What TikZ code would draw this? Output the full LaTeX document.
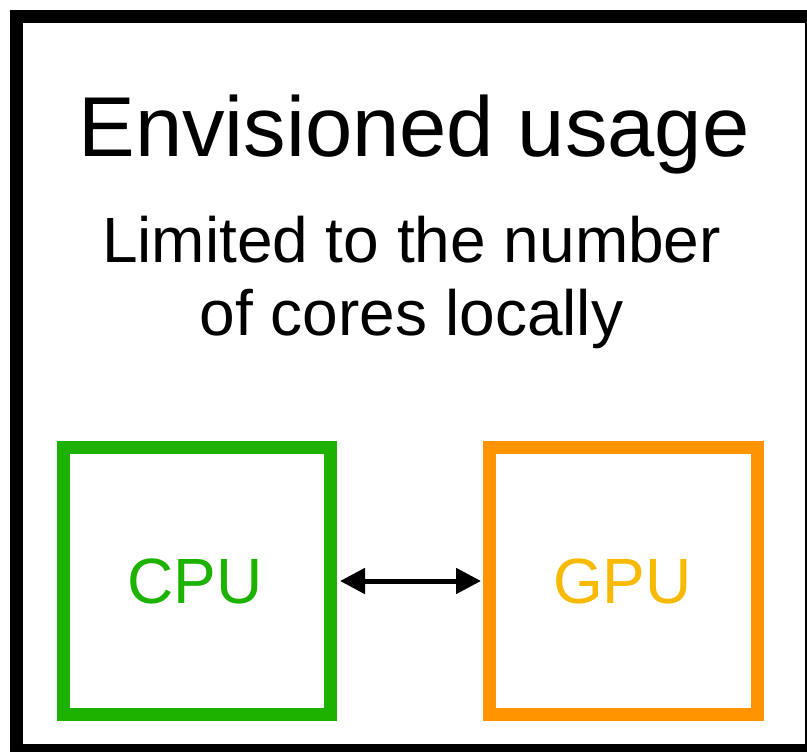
\documentclass[tikz,border=0pt]{standalone}
\usepackage{fontspec}
\setmainfont{Liberation Sans}
\usetikzlibrary{arrows.meta}
\definecolor{cpugreen}{RGB}{29,177,0}
\definecolor{gpuorange}{RGB}{255,147,0}
\definecolor{gputext}{RGB}{248,186,0}
\tikzset{
  unitbox/.style={draw, line width=13pt, minimum width=267pt, minimum height=267pt,
    inner sep=0pt, outer sep=6.5pt, fill=none},
  unitlabel/.style={font=\fontsize{64}{73}\selectfont, anchor=base, inner sep=0pt},
  bodytext/.style={font=\fontsize{64}{73}\selectfont, anchor=base, inner sep=0pt},
  titletext/.style={font=\fontsize{85}{98}\selectfont, anchor=base, inner sep=0pt},
  link/.style={line width=5pt, {Triangle[length=25pt,width=25pt]}-{Triangle[length=25pt,width=25pt]},
    shorten <=3pt, shorten >=2pt}
}
\begin{document}
\begin{tikzpicture}[x=1pt,y=-1pt]
  \useasboundingbox (0,0) rectangle (807,752);
  \clip (0,0) rectangle (807,752);
  \fill[white] (0,0) rectangle (807,752);
  % outer frame (partly running off the page)
  \draw[line width=13pt] (16.5,16.5) rectangle (811.5,750.5);
  % headings
  \node[titletext] (title) at (414,157) {Envisioned usage};
  \node[bodytext] (line1) at (411.5,262) {Limited to the number};
  \node[bodytext] (line2) at (411.5,335) {of cores locally};
  % processing units
  \node[unitbox, draw=cpugreen] (cpu) at (197,581) {};
  \node[unitbox, draw=gpuorange, minimum width=268pt] (gpu) at (623.5,581) {};
  \node[unitlabel, text=cpugreen] (cpulabel) at (195,603) {CPU};
  \node[unitlabel, text=gputext] (gpulabel) at (622.5,603) {GPU};
  % link between them
  \draw[link] (cpu.east) -- (gpu.west);
\end{tikzpicture}
\end{document}
